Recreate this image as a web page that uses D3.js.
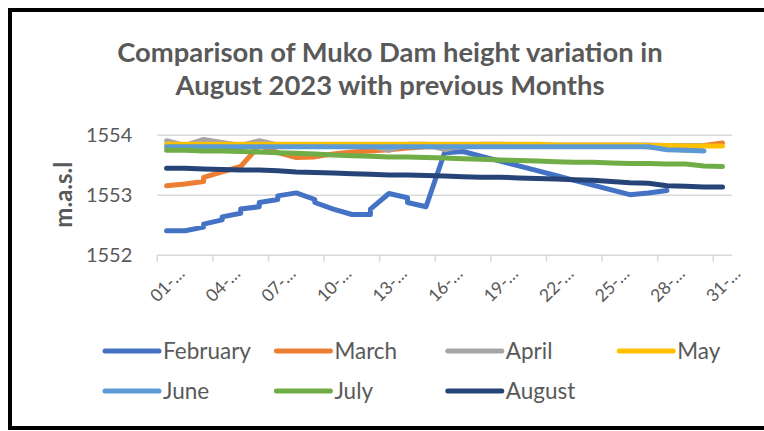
<!DOCTYPE html>
<html>
<head>
<meta charset="utf-8">
<script src="https://cdn.jsdelivr.net/npm/d3@7"></script>
<style>
  html, body { margin: 0; padding: 0; background: #fff; overflow: hidden; }
  svg { display: block; font-family: Lato, "Noto Sans", sans-serif; }
</style>
</head>
<body>
<svg id="chart" width="764" height="431"></svg>
<script>
// Muko Dam level (m.a.s.l) per day of month, one series per month.
// A pair [a, b] means two readings logged on the same day.
const days = d3.range(1, 32);
const tickDays = [1, 4, 7, 10, 13, 16, 19, 22, 25, 28, 31];
const tickLabels = ['01-…', '04-…', '07-…', '10-…', '13-…', '16-…', '19-…', '22-…', '25-…', '28-…', '31-…'];
const yTicks = [1552, 1553, 1554];

const february = [1552.40, 1552.40, [1552.46, 1552.51], [1552.58, 1552.63], [1552.69, 1552.76],
  [1552.80, 1552.87], [1552.92, 1552.98], 1553.03, [1552.92, 1552.87], 1552.76, 1552.67,
  [1552.67, 1552.76], 1553.02, [1552.95, 1552.87], 1552.80, 1553.70, 1553.72, 1553.64,
  1553.56, 1553.48, 1553.40, 1553.32, 1553.24, 1553.16, 1553.08, 1553.00, 1553.03, 1553.07];
const march = [1553.15, 1553.18, [1553.22, 1553.29], 1553.38, 1553.47, 1553.82, 1553.70, 1553.62,
  1553.63, 1553.68, 1553.71, 1553.73, 1553.75, 1553.78, 1553.80, 1553.80, 1553.80, 1553.81,
  1553.81, 1553.81, 1553.81, 1553.81, 1553.81, 1553.81, 1553.81, 1553.81, 1553.80, 1553.78,
  1553.74, 1553.82, 1553.86];
const april = [1553.90, 1553.82, 1553.92, 1553.87, 1553.82, 1553.90, 1553.83, 1553.82, 1553.82,
  1553.82, 1553.82, 1553.82, 1553.74, 1553.84, 1553.84, 1553.75, 1553.82, 1553.84, 1553.84,
  1553.83, 1553.83, 1553.83, 1553.83, 1553.83, 1553.83, 1553.83, 1553.83, 1553.82, 1553.82,
  1553.82];
const may = [1553.84, 1553.84, 1553.84, 1553.84, 1553.84, 1553.84, 1553.84, 1553.84, 1553.84,
  1553.84, 1553.84, 1553.84, 1553.84, 1553.84, 1553.84, 1553.84, 1553.84, 1553.84, 1553.84,
  1553.84, 1553.84, 1553.83, 1553.83, 1553.83, 1553.83, 1553.83, 1553.82, 1553.82, 1553.81,
  1553.81, 1553.81];
const june = [1553.80, 1553.80, 1553.80, 1553.80, 1553.80, 1553.80, 1553.80, 1553.80, 1553.80,
  1553.80, 1553.80, 1553.80, 1553.80, 1553.80, 1553.80, 1553.80, 1553.80, 1553.80, 1553.80,
  1553.80, 1553.80, 1553.80, 1553.80, 1553.80, 1553.80, 1553.80, 1553.80, 1553.75, 1553.74,
  1553.73];
const july = [1553.74, 1553.74, 1553.73, 1553.73, 1553.72, 1553.71, 1553.70, 1553.69, 1553.68,
  1553.66, 1553.65, 1553.64, 1553.63, 1553.63, 1553.62, 1553.61, 1553.60, 1553.59, 1553.58,
  1553.57, 1553.56, 1553.55, 1553.54, 1553.54, 1553.53, 1553.52, 1553.52, 1553.51, 1553.51,
  1553.48, 1553.47];
const august = [1553.44, 1553.44, 1553.43, 1553.42, 1553.41, 1553.41, 1553.40, 1553.38, 1553.37,
  1553.36, 1553.35, 1553.34, 1553.33, 1553.33, 1553.32, 1553.31, 1553.30, 1553.29, 1553.29,
  1553.28, 1553.27, 1553.26, 1553.25, 1553.24, 1553.22, 1553.20, 1553.19, 1553.15, 1553.14,
  1553.13, 1553.13];

const seriesNames = ['February', 'March', 'April', 'May', 'June', 'July', 'August'];
const seriesValues = [february, march, april, may, june, july, august];
const seriesColors = ['#4472C4', '#ED7D31', '#A5A5A5', '#FFC000', '#5B9BD5', '#70AD47', '#264478'];

const textColor = '#595959';
const gridColor = '#D9D9D9';

const svg = d3.select('#chart');

const plot = { left: 157.3, right: 731.8, top: 134.7, bottom: 254.7 };

const x = d3.scaleBand().domain(days).range([plot.left, plot.right]);
const y = d3.scaleLinear().domain([1552, 1554]).range([plot.bottom, plot.top]);

// Figure frame: top, left and bottom edges (the right edge is cropped off)
svg.append('path')
  .attr('d', 'M764,10H10V428H764')
  .attr('fill', 'none')
  .attr('stroke', '#000')
  .attr('stroke-width', 4);

// Title
const title = svg.append('text')
  .attr('text-anchor', 'middle')
  .attr('fill', textColor)
  .attr('font-weight', 'bold')
  .attr('font-size', 27.4);
title.append('tspan').attr('x', 390).attr('y', 61.5).text('Comparison of Muko Dam height variation in');
title.append('tspan').attr('x', 390).attr('y', 95).text('August 2023 with previous Months');

// Gridlines
svg.append('g')
  .attr('transform', `translate(${plot.left},0)`)
  .call(d3.axisLeft(y).tickValues(yTicks).tickSize(-(plot.right - plot.left)).tickFormat(''))
  .call(g => g.select('.domain').remove())
  .call(g => g.selectAll('line').attr('stroke', gridColor).attr('stroke-width', 1.5));

// Y labels
svg.append('g')
  .attr('transform', `translate(${plot.left - 22},0)`)
  .call(d3.axisLeft(y).tickValues(yTicks).tickSize(0).tickFormat(d3.format('d')))
  .call(g => g.select('.domain').remove())
  .call(g => g.selectAll('text')
    .attr('fill', textColor)
    .attr('font-size', 20)
    .attr('font-family', 'Lato, sans-serif'));

svg.append('text')
  .attr('transform', `translate(72,${(plot.top + plot.bottom) / 2}) rotate(-90)`)
  .attr('text-anchor', 'middle')
  .attr('fill', textColor)
  .attr('font-weight', 'bold')
  .attr('font-size', 24)
  .text('m.a.s.l');

// X tick marks sit on category boundaries, every third day
svg.append('g')
  .selectAll('line')
  .data(tickDays)
  .join('line')
  .attr('x1', d => x(d)).attr('x2', d => x(d))
  .attr('y1', plot.bottom).attr('y2', plot.bottom + 7)
  .attr('stroke', gridColor)
  .attr('stroke-width', 1.5);

// X labels
svg.append('g')
  .attr('transform', `translate(0,${plot.bottom})`)
  .call(d3.axisBottom(x).tickValues(tickDays).tickSize(0)
    .tickFormat(d => tickLabels[tickDays.indexOf(d)]))
  .call(g => g.select('.domain').remove())
  .call(g => g.selectAll('text')
    .attr('fill', textColor)
    .attr('font-size', 17.5)
    .attr('font-family', 'Lato, sans-serif')
    .attr('text-anchor', 'end')
    .attr('dy', null)
    .attr('transform', 'translate(17,18) rotate(-45)'));

// Series lines
function toPoints(values) {
  const pts = [];
  values.forEach((v, i) => {
    const day = days[i];
    (Array.isArray(v) ? v : [v]).forEach(val => pts.push([day, val]));
  });
  return pts;
}

const line = d3.line()
  .x(d => x(d[0]) + x.bandwidth() / 2)
  .y(d => y(d[1]));

svg.append('g')
  .selectAll('path')
  .data(seriesValues)
  .join('path')
  .attr('d', d => line(toPoints(d)))
  .attr('fill', 'none')
  .attr('stroke', (d, i) => seriesColors[i])
  .attr('stroke-width', 5)
  .attr('stroke-linejoin', 'round')
  .attr('stroke-linecap', 'round');

// Legend: 4 columns, 2 rows
const legend = svg.append('g')
  .selectAll('g')
  .data(seriesNames)
  .join('g')
  .attr('transform', (d, i) => `translate(${105 + (i % 4) * 171.4},${351 + Math.floor(i / 4) * 40})`);

legend.append('line')
  .attr('x1', 0).attr('x2', 54)
  .attr('stroke', (d, i) => seriesColors[i])
  .attr('stroke-width', 5)
  .attr('stroke-linecap', 'round');

legend.append('text')
  .attr('x', 58)
  .attr('dy', '0.35em')
  .attr('fill', textColor)
  .attr('font-size', 22.5)
  .text(d => d);
</script>
</body>
</html>
